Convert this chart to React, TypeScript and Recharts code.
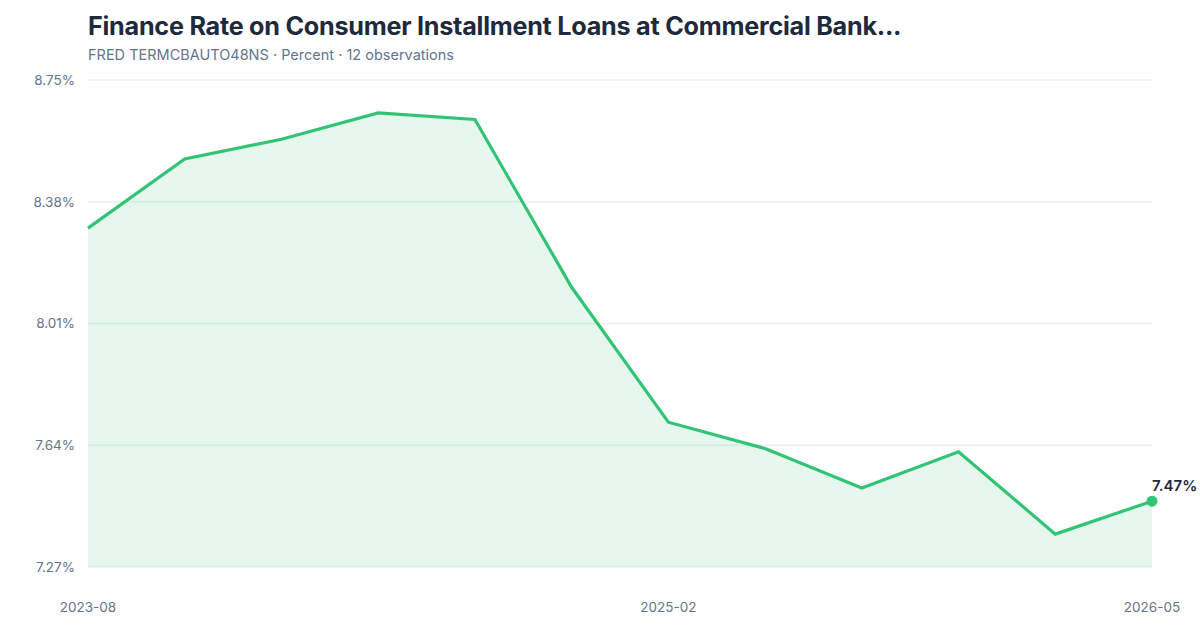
import { AreaChart, Area, XAxis, YAxis, CartesianGrid } from 'recharts'

const dates = [
  '2023-08', '2023-11', '2024-02', '2024-05', '2024-08', '2024-11',
  '2025-02', '2025-05', '2025-08', '2025-11', '2026-02', '2026-05',
]
const rates = [8.3, 8.51, 8.57, 8.65, 8.63, 8.12, 7.71, 7.63, 7.51, 7.62, 7.37, 7.47]
const yTicks = [7.27, 7.64, 8.01, 8.38, 8.75]
const xTickIdx = [0, 6, 11]

const GREEN = '#33c375'
const FONT = 'Inter, "Noto Sans", sans-serif'

const data = dates.map((d, i) => ({ i, date: d, rate: rates[i] }))

function EndLabel(props: any) {
  const { x, y, index } = props
  if (index !== data.length - 1) return null
  return (
    <text x={x} y={y - 10} fill="#1e293b" fontSize={15} fontWeight={600} fontFamily={FONT}>
      {rates[index].toFixed(2)}%
    </text>
  )
}

function EndDot(props: any) {
  const { cx, cy, index } = props
  if (index !== data.length - 1) return <g key={index} />
  return <circle key={index} cx={cx} cy={cy} r={5.5} fill={GREEN} />
}

export default function App() {
  return (
    <div style={{ position: 'absolute', top: 0, left: 0, width: 1200, height: 640, background: '#fff', fontFamily: FONT }}>
      <div style={{ position: 'absolute', left: 88, top: 11, fontSize: 25.2, fontWeight: 700, color: '#1e293b', letterSpacing: -0.25 }}>
        Finance Rate on Consumer Installment Loans at Commercial Bank...
      </div>
      <div style={{ position: 'absolute', left: 88, top: 46, fontSize: 14.5, color: '#64748b' }}>
        FRED TERMCBAUTO48NS · Percent · 12 observations
      </div>
      <AreaChart
        width={1200}
        height={640}
        data={data}
        margin={{ top: 80, right: 48, bottom: 43, left: 0 }}
      >
        <CartesianGrid vertical={false} stroke="#eceff3" strokeWidth={1.5} />
        <XAxis
          dataKey="i"
          type="number"
          domain={[0, 11]}
          ticks={xTickIdx}
          tickFormatter={(v: number) => dates[v]}
          axisLine={false}
          tickLine={false}
          tickMargin={29}
          tick={{ fill: '#64748b', fontSize: 13.5, fontFamily: FONT }}
        />
        <YAxis
          width={88}
          domain={[7.27, 8.75]}
          ticks={yTicks}
          tickFormatter={(v: number) => `${v.toFixed(2)}%`}
          axisLine={false}
          tickLine={false}
          tickMargin={7}
          tick={{ fill: '#64748b', fontSize: 13.5, fontFamily: FONT }}
        />
        <Area
          type="linear"
          dataKey="rate"
          stroke={GREEN}
          strokeWidth={3.2}
          fill={GREEN}
          fillOpacity={0.12}
          dot={EndDot}
          activeDot={false}
          label={EndLabel}
          isAnimationActive={false}
        />
      </AreaChart>
    </div>
  )
}
